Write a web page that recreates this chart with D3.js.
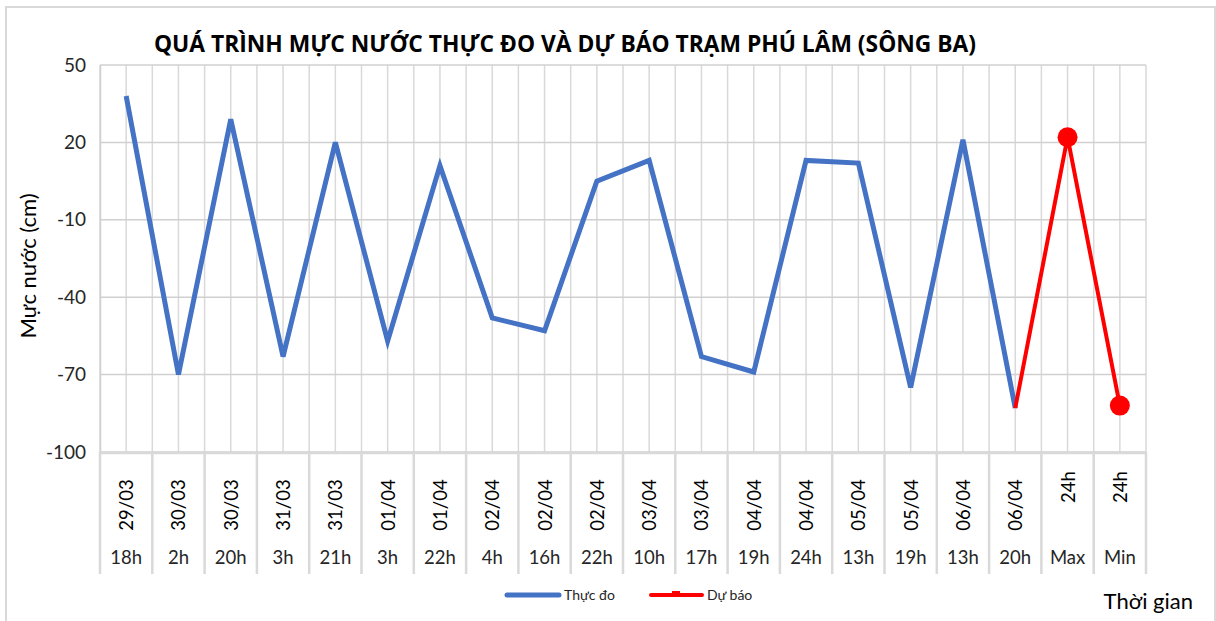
<!DOCTYPE html>
<html><head><meta charset="utf-8">
<script src="https://cdn.jsdelivr.net/npm/d3@7"></script>
<style>body{margin:0;background:#fff}svg{display:block}</style>
</head><body>
<script>
const dates = ["29/03","30/03","30/03","31/03","31/03","01/04","01/04","02/04","02/04","02/04","03/04","03/04","04/04","04/04","05/04","05/04","06/04","06/04","24h","24h"];
const hours = ["18h","2h","20h","3h","21h","3h","22h","4h","16h","22h","10h","17h","19h","24h","13h","19h","13h","20h","Max","Min"];
const observed = [38,-70,29,-63,20,-57,11,-48,-53,5,13,-63,-69,13,12,-75,21,-83];
const forecastIdx = [17,18,19];
const forecast = [-83,22,-82];
const yTicks = [50,20,-10,-40,-70,-100];

const W=1216,H=621;
const svg=d3.select("body").append("svg").attr("width",W).attr("height",H);
const font="Lato, 'Open Sans', sans-serif";
svg.append("rect").attr("x",6).attr("y",7).attr("width",1209).attr("height",H).attr("fill","#fff").attr("stroke","#d9d9d9").attr("stroke-width",2);

const L=100,R=1146,T=65,B=452;
const cats=d3.range(dates.length);
const x=d3.scaleBand().domain(cats).range([L,R]);
const y=d3.scaleLinear().domain([-100,50]).range([B,T]);
const cx=i=>x(i)+x.bandwidth()/2;

const g=svg.append("g");
cats.forEach(i=>{
  g.append("line").attr("x1",x(i)).attr("x2",x(i)).attr("y1",T).attr("y2",B).attr("stroke","#d9d9d9").attr("stroke-width",1.5);
  g.append("line").attr("x1",cx(i)).attr("x2",cx(i)).attr("y1",T).attr("y2",B).attr("stroke","#d9d9d9").attr("stroke-width",1.5);
});
g.append("line").attr("x1",R).attr("x2",R).attr("y1",T).attr("y2",B).attr("stroke","#d9d9d9").attr("stroke-width",1.5);
yTicks.forEach(t=>{
  g.append("line").attr("x1",L).attr("x2",R).attr("y1",y(t)).attr("y2",y(t)).attr("stroke","#d0d0d0").attr("stroke-width",1.5);
});
const ya=svg.append("g").attr("transform",`translate(${L},0)`).call(d3.axisLeft(y).tickValues(yTicks).tickFormat(d=>String(d)).tickSize(0).tickPadding(14));
ya.select(".domain").attr("stroke","#d0d0d0").attr("stroke-width",1.5);
ya.selectAll("text").attr("font-family",font).attr("font-size",19).attr("fill","#262626");

[...cats, cats.length].forEach(i=>{
  const xx = i<cats.length ? x(i) : R;
  svg.append("line").attr("x1",xx).attr("x2",xx).attr("y1",B).attr("y2",574).attr("stroke","#d9d9d9").attr("stroke-width",2.5);
});
svg.append("line").attr("x1",L).attr("x2",R).attr("y1",B+1).attr("y2",B+1).attr("stroke","#d9d9d9").attr("stroke-width",2.5);
cats.forEach(i=>{
  const isH = dates[i].endsWith("h");
  svg.append("text").attr("transform",`translate(${cx(i)+7},${isH?487:505}) rotate(-90)`)
    .attr("text-anchor","middle").attr("font-family",font).attr("font-size",18.5).attr("fill","#000").text(dates[i]);
  svg.append("text").attr("x",cx(i)).attr("y",564).attr("text-anchor","middle").attr("font-family",font).attr("font-size",18.5).attr("fill","#262626").text(hours[i]);
});

const line=d3.line().x(d=>cx(d[0])).y(d=>y(d[1]));
svg.append("path").datum(observed.map((v,i)=>[i,v])).attr("d",line).attr("fill","none").attr("stroke","#4472C4").attr("stroke-width",5).attr("stroke-linejoin","miter");
const fData=forecast.map((v,k)=>[forecastIdx[k],v]);
svg.append("path").datum(fData).attr("d",line).attr("fill","none").attr("stroke","#FF0000").attr("stroke-width",4);
svg.selectAll("circle.f").data(fData.slice(1)).enter().append("circle").attr("cx",d=>cx(d[0])).attr("cy",d=>y(d[1])).attr("r",10).attr("fill","#FF0000");

svg.append("text").attr("x",565).attr("y",52).attr("text-anchor","middle").attr("font-family","'Open Sans', sans-serif").attr("font-weight","bold").attr("font-size",22.8).attr("fill","#000").text("QUÁ TRÌNH MỰC NƯỚC THỰC ĐO VÀ DỰ BÁO TRẠM PHÚ LÂM (SÔNG BA)");
svg.append("text").attr("transform","translate(36,266) rotate(-90)").attr("text-anchor","middle").attr("font-family",font).attr("font-size",22).attr("fill","#000").text("Mực nước (cm)");
svg.append("text").attr("x",1193).attr("y",609).attr("text-anchor","end").attr("font-family",font).attr("font-size",22).attr("fill","#000").text("Thời gian");
svg.append("line").attr("x1",507).attr("x2",559).attr("y1",595).attr("y2",595).attr("stroke","#4472C4").attr("stroke-width",5).attr("stroke-linecap","round");
svg.append("text").attr("x",564).attr("y",600).attr("font-family",font).attr("font-size",14).attr("fill","#262626").text("Thực đo");
svg.append("line").attr("x1",651).attr("x2",702).attr("y1",595).attr("y2",595).attr("stroke","#FF0000").attr("stroke-width",4).attr("stroke-linecap","round");
svg.append("rect").attr("x",672).attr("y",591).attr("width",8).attr("height",6).attr("fill","#FF0000");
svg.append("text").attr("x",707).attr("y",600).attr("font-family",font).attr("font-size",14).attr("fill","#262626").text("Dự báo");
</script>
</body></html>
